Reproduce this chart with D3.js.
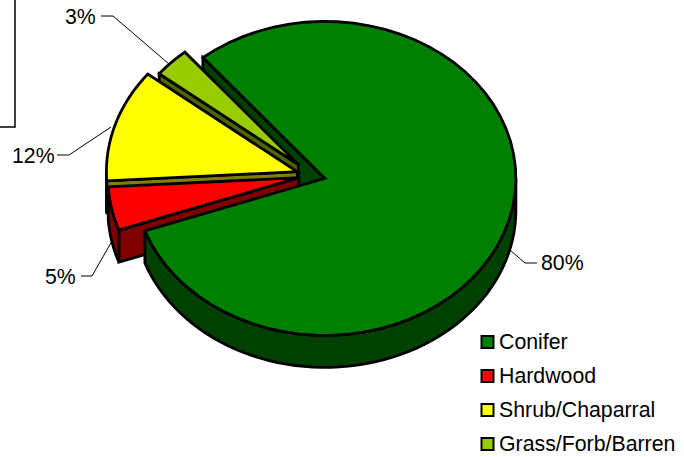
<!DOCTYPE html>
<html>
<head>
<meta charset="utf-8">
<script src="https://cdn.jsdelivr.net/npm/d3@7"></script>
<style>
    html, body {margin: 0; padding: 0; background: #fff;}
    svg {display: block;}
    text {font-family: "Liberation Sans", Arial, sans-serif; font-size: 21.3px; fill: #000;}
</style>
</head>
<body>
<div class="content"></div>
<script>
(function () {
    let categories = ['Conifer', 'Hardwood', 'Shrub/Chaparral', 'Grass/Forb/Barren'];
    let values = [80.6, 4.5, 11.6, 3.3];
    let percentLabels = ['80%', '5%', '12%', '3%'];
    let colors = ['#008000', '#ff0000', '#ffff00', '#99cc00'];
    let wallColors = ['#004000', '#800000', '#808000', '#4d6600'];

    let width = 684;
    let height = 457;
    let cx = 312;
    let cy = 175.5;
    let rx = 191;
    let ry = 157;
    let depth = 32;
    let explode = [0.07, 0.07, 0.08, 0.1];
    let radius = [1, 1, 1, 0.93];
    let startDeg = 320.3;

    // leader lines, [label end, elbow, slice end]
    let leaders = [
        [[537, 263], [525, 263], [510, 250]],
        [[81, 276], [92, 276], [112, 241]],
        [[57, 155], [69, 155], [111, 127]],
        [[101, 16], [113, 16], [169, 64]]
    ];
    let labelPos = [[541, 270], [45, 284], [12, 163], [65, 24]];

    let svg = d3.select('.content').append('svg')
        .attr('width', width)
        .attr('height', height);

    let xScale = d3.scaleLinear().domain([-1, 1]).range([cx - rx, cx + rx]);
    let yScale = d3.scaleLinear().domain([-1, 1]).range([cy - ry, cy + ry]);

    let pie = d3.pie()
        .sort(null)
        .startAngle(startDeg * Math.PI / 180)
        .endAngle((startDeg + 360) * Math.PI / 180);

    let slices = pie(values).map(function (d, i) {
        let mid = (d.startAngle + d.endAngle) / 2;
        return {
            i: i,
            a0: d.startAngle,
            a1: d.endAngle,
            r: radius[i],
            ox: explode[i] * Math.sin(mid),
            oy: -explode[i] * Math.cos(mid)
        };
    });

    function pt(s, a, r, dz) {
        return [
            xScale(s.ox + r * s.r * Math.sin(a)),
            yScale(s.oy - r * s.r * Math.cos(a)) + (dz || 0)
        ];
    }

    function arcPoints(s, a0, a1, dz) {
        return d3.range(0, 61).map(function (k) {
            return pt(s, a0 + (a1 - a0) * k / 60, 1, dz);
        });
    }

    let line = d3.line().curve(d3.curveLinear);

    function draw(points, fill) {
        svg.append('path')
            .attr('d', line(points) + 'Z')
            .attr('fill', fill)
            .attr('stroke', '#000')
            .attr('stroke-width', 2.8)
            .attr('stroke-linejoin', 'miter');
    }

    // top face of a slice
    function drawTop(s) {
        draw([pt(s, 0, 0)].concat(arcPoints(s, s.a0, s.a1)), colors[s.i]);
    }

    // cut wall along one radial edge
    function drawCut(s, a) {
        draw([pt(s, 0, 0), pt(s, a, 1), pt(s, a, 1, depth), pt(s, 0, 0, depth)], wallColors[s.i]);
    }

    // outer wall, only the front half of the ellipse can be seen
    function drawRim(s, a0, a1) {
        draw(arcPoints(s, a0, a1).concat(arcPoints(s, a1, a0, depth)), wallColors[s.i]);
    }

    let turn = 2 * Math.PI;
    let conifer = slices[0], hardwood = slices[1], shrub = slices[2], grass = slices[3];

    drawCut(conifer, conifer.a0);
    drawCut(grass, grass.a0);
    drawTop(grass);
    drawCut(shrub, shrub.a0);
    drawRim(shrub, shrub.a0, turn * 0.75 + turn);
    drawTop(shrub);
    drawCut(hardwood, hardwood.a0);
    drawRim(hardwood, hardwood.a0, hardwood.a1);
    drawTop(hardwood);
    drawRim(conifer, turn * 0.25 + turn, conifer.a1);
    drawTop(conifer);

    // leftover corner of a box cut off by the picture edge
    svg.append('path')
        .attr('d', 'M15,0V127H0')
        .attr('fill', 'none')
        .attr('stroke', '#000')
        .attr('stroke-width', 1.5);

    svg.selectAll('.leader')
        .data(leaders)
        .enter()
        .append('path')
        .attr('class', 'leader')
        .attr('d', function (d) { return line(d); })
        .attr('fill', 'none')
        .attr('stroke', '#000')
        .attr('stroke-width', 1);

    svg.selectAll('.pct')
        .data(percentLabels)
        .enter()
        .append('text')
        .attr('class', 'pct')
        .attr('x', function (d, i) { return labelPos[i][0]; })
        .attr('y', function (d, i) { return labelPos[i][1]; })
        .text(function (d) { return d; });

    // легенда
    let legendY = d3.scalePoint().domain(categories).range([342, 444]);

    let legend = svg.selectAll('.legend')
        .data(categories)
        .enter()
        .append('g')
        .attr('class', 'legend')
        .attr('transform', function (d) { return 'translate(0,' + legendY(d) + ')'; });

    legend.append('rect')
        .attr('x', 481.5)
        .attr('y', -6)
        .attr('width', 12)
        .attr('height', 12)
        .attr('fill', function (d, i) { return colors[i]; })
        .attr('stroke', '#000')
        .attr('stroke-width', 2);

    legend.append('text')
        .attr('x', 499)
        .attr('y', 7)
        .text(function (d) { return d; });
})();
</script>
</body>
</html>
